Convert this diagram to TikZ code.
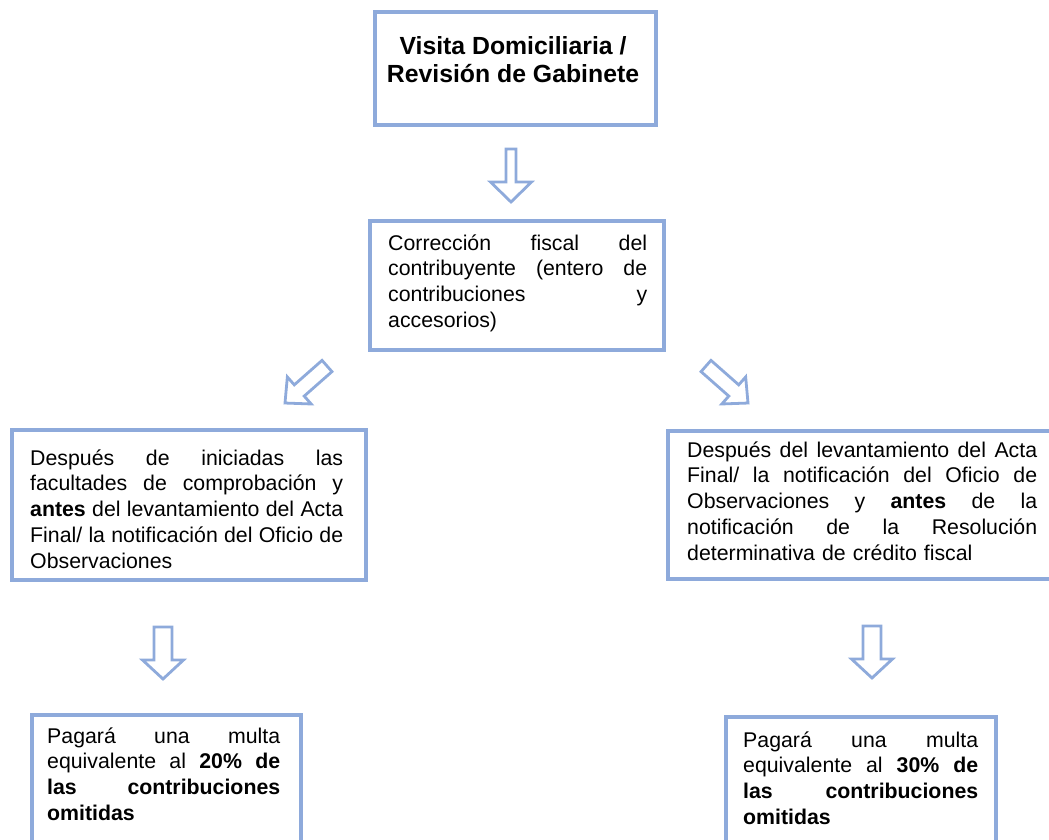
\documentclass[tikz,border=0pt]{standalone}
\usepackage{fontspec}
\setmainfont{Liberation Sans}
\definecolor{boxblue}{RGB}{142,170,219}
% justified line of given width
\newcommand\jl[2]{\leavevmode\hbox to #1{\spaceskip=0.278em plus 1fil\relax\xspaceskip=\spaceskip #2}}
% hollow block arrow: #1 start, #2 angle, #3 length, #4 shaft half-width, #5 head half-width, #6 head length
\newcommand\blockarrow[6]{%
  \draw[arrowline, shift={#1}, rotate=#2]
    (0,-#4) -- ({#3-#6},-#4) -- ({#3-#6},-#5) -- (#3,0) -- ({#3-#6},#5) -- ({#3-#6},#4) -- (0,#4) -- cycle;}
\begin{document}
\begin{tikzpicture}[x=1pt,y=-1pt,
  box/.style={draw=boxblue, line width=4.5pt, inner sep=0pt, rectangle},
  arrowline/.style={draw=boxblue, line width=2.8pt, line join=miter},
  txt/.style={inner sep=0pt, anchor=base west, align=left,
    font=\fontsize{21.3}{25.8}\selectfont},
  title/.style={inner sep=0pt, anchor=base, align=center,
    font=\fontsize{24.8}{28}\selectfont\bfseries}]
\fill[white] (0,0) rectangle (1049,840);
\useasboundingbox (0,0) rectangle (1049,840);
\clip (0,0) rectangle (1049,840);

% boxes
\node[box, minimum width=281pt, minimum height=113pt] (b1) at (515.5,68.5) {};
\node[box, minimum width=294pt, minimum height=129pt] (b2) at (517,285.5) {};
\node[box, minimum width=354pt, minimum height=150pt] (b3) at (189,505) {};
\node[box, minimum width=412pt, minimum height=148pt] (b4) at (874,505) {};
\node[box, minimum width=269pt, minimum height=165pt] (b5) at (166.5,797.5) {};
\node[box, minimum width=270pt, minimum height=163pt] (b6) at (861,798.5) {};

% texts
\node[title] (t1) at (513,83) {Visita Domiciliaria /\\Revisión de Gabinete};

\node[txt, text width=259pt] (t2) at (388,250) {%
\jl{259pt}{Corrección fiscal del}\\
\jl{259pt}{contribuyente (entero de}\\
\jl{259pt}{contribuciones y}\\
accesorios)};

\node[txt, text width=313pt] (t3) at (30,465) {%
\jl{313pt}{Después de iniciadas las}\\
\jl{313pt}{facultades de comprobación y}\\
\jl{313pt}{\textbf{antes} del levantamiento del Acta}\\
\jl{313pt}{Final/ la notificación del Oficio de}\\
Observaciones};

\node[txt, text width=350pt] (t4) at (687,457) {%
\jl{350pt}{Después del levantamiento del Acta}\\
\jl{350pt}{Final/ la notificación del Oficio de}\\
\jl{350pt}{Observaciones y \textbf{antes} de la}\\
\jl{350pt}{notificación de la Resolución}\\
determinativa de crédito fiscal};

\node[txt, text width=233pt] (t5) at (47,743) {%
\jl{233pt}{Pagará una multa}\\
\jl{233pt}{equivalente al \textbf{20\% de}}\\
\jl{233pt}{\textbf{las contribuciones}}\\
\textbf{omitidas}};

\node[txt, text width=235pt] (t6) at (743,747) {%
\jl{235pt}{Pagará una multa}\\
\jl{235pt}{equivalente al \textbf{30\% de}}\\
\jl{235pt}{\textbf{las contribuciones}}\\
\textbf{omitidas}};

% block arrows
\blockarrow{(511,149)}{-90}{53}{5}{20.5}{20}
\blockarrow{(327,366)}{221.4}{56}{7.5}{18}{19}
\blockarrow{(706,366)}{-41.4}{56}{7.5}{18}{19}
\blockarrow{(163,627)}{-90}{52}{9}{20.5}{19}
\blockarrow{(872,626)}{-90}{52}{9}{20.5}{19}
\end{tikzpicture}
\end{document}
